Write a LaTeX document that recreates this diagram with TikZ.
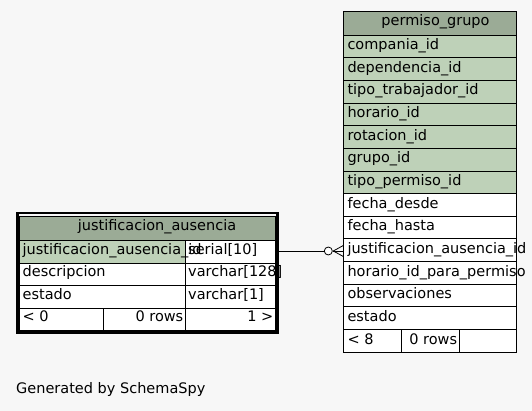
\documentclass[tikz,border=0pt]{standalone}
\usepackage{fontspec}
\setmainfont{DejaVu Sans}
\definecolor{bgc}{HTML}{F7F7F7}
\definecolor{hdrc}{HTML}{9BAB96}
\definecolor{keyc}{HTML}{BED1B8}
\begin{document}
\begin{tikzpicture}[x=1pt,y=-1pt,
  cellbox/.style={draw=black, line width=0.9pt},
  txt/.style={anchor=base west, inner sep=0pt, font=\fontsize{14.5}{17}\selectfont},
  txtc/.style={anchor=base, inner sep=0pt, font=\fontsize{14.5}{17}\selectfont},
  txte/.style={anchor=base east, inner sep=0pt, font=\fontsize{14.5}{17}\selectfont},
  conn/.style={draw=black, line width=0.8pt}]
\useasboundingbox[fill=bgc] (0,0) rectangle (532,411);

% ---------- permiso_grupo ----------
\filldraw[fill=hdrc,cellbox] (343.3,11.7) rectangle (516.7,35);
\node[txtc] (pghead) at (435.5,26) {permiso\_grupo};
\foreach \f [count=\i from 0] in {keyc,keyc,keyc,keyc,keyc,keyc,keyc,white,white,white,white,white,white}{
  \pgfmathsetmacro\rt{35+\i*22.66}
  \filldraw[fill=\f,cellbox] (343.3,\rt) rectangle (516.7,\rt+22.66);
}
\filldraw[fill=white,cellbox] (343.3,329.6) rectangle (401.7,352.3);
\filldraw[fill=white,cellbox] (401.7,329.6) rectangle (459,352.3);
\filldraw[fill=white,cellbox] (459,329.6) rectangle (516.7,352.3);
\foreach \n/\t [count=\i from 0] in {pg1/compania\_id,pg2/dependencia\_id,pg3/tipo\_trabajador\_id,pg4/horario\_id,pg5/rotacion\_id,pg6/grupo\_id,pg7/tipo\_permiso\_id,pg8/fecha\_desde,pg9/fecha\_hasta,pg10/justificacion\_ausencia\_id,pg11/horario\_id\_para\_permiso,pg12/observaciones,pg13/estado}{
  \pgfmathsetmacro\rt{35+\i*22.66}
  \node[txt] (\n) at (347.3,\rt+14.5) {\t};
}
\node[txt] (pgf1) at (347.3,344.1) {< 8};
\node[txte] (pgf2) at (457.3,344.1) {0 rows};

% ---------- justificacion_ausencia ----------
\filldraw[fill=hdrc,cellbox] (19.5,216.5) rectangle (275.5,240.7);
\filldraw[fill=keyc,cellbox] (19.5,240.7) rectangle (185,263.2);
\filldraw[fill=white,cellbox] (185,240.7) rectangle (275.5,263.2);
\filldraw[fill=white,cellbox] (19.5,263.2) rectangle (185,285.7);
\filldraw[fill=white,cellbox] (185,263.2) rectangle (275.5,285.7);
\filldraw[fill=white,cellbox] (19.5,285.7) rectangle (185,308.2);
\filldraw[fill=white,cellbox] (185,285.7) rectangle (275.5,308.2);
\filldraw[fill=white,cellbox] (19.5,308.2) rectangle (103.7,330.7);
\filldraw[fill=white,cellbox] (103.7,308.2) rectangle (185,330.7);
\filldraw[fill=white,cellbox] (185,308.2) rectangle (275.5,330.7);
\draw[line width=2.6pt] (17.3,213.2) rectangle (277.2,332.6);
\node[txtc] (jahead) at (157,230.7) {justificacion\_ausencia};
\node[txt] (ja1) at (22.5,254.3) {justificacion\_ausencia\_id};
\node[txt] (ja1t) at (188,254.3) {serial[10]};
\node[txt] (ja2) at (22.5,276.8) {descripcion};
\node[txt] (ja2t) at (188,276.8) {varchar[128]};
\node[txt] (ja3) at (22.5,299.3) {estado};
\node[txt] (ja3t) at (188,299.3) {varchar[1]};
\node[txt] (jaf1) at (22.5,321.8) {< 0};
\node[txte] (jaf2) at (183.5,321.8) {0 rows};
\node[txte] (jaf3) at (273.5,321.8) {1 >};

% ---------- connector ----------
\coordinate (japort) at (278.5,251);
\coordinate (pgport) at (343.3,251);
\coordinate (crowtip) at (333.3,251);
\coordinate (crowup) at (343.3,245.5);
\coordinate (crowdn) at (343.3,256.5);
\node[circle, draw=black, line width=0.8pt, fill=white, inner sep=0pt, minimum size=8pt] (odot) at (328.3,251) {};
\draw[conn] (japort) -- (odot.west);
\draw[conn] (odot.east) -- (crowtip);
\draw[conn] (crowtip) -- (crowup);
\draw[conn] (crowtip) -- (pgport);
\draw[conn] (crowtip) -- (crowdn);

\node[txt] (gen) at (16,393.5) {Generated by SchemaSpy};
\end{tikzpicture}
\end{document}
